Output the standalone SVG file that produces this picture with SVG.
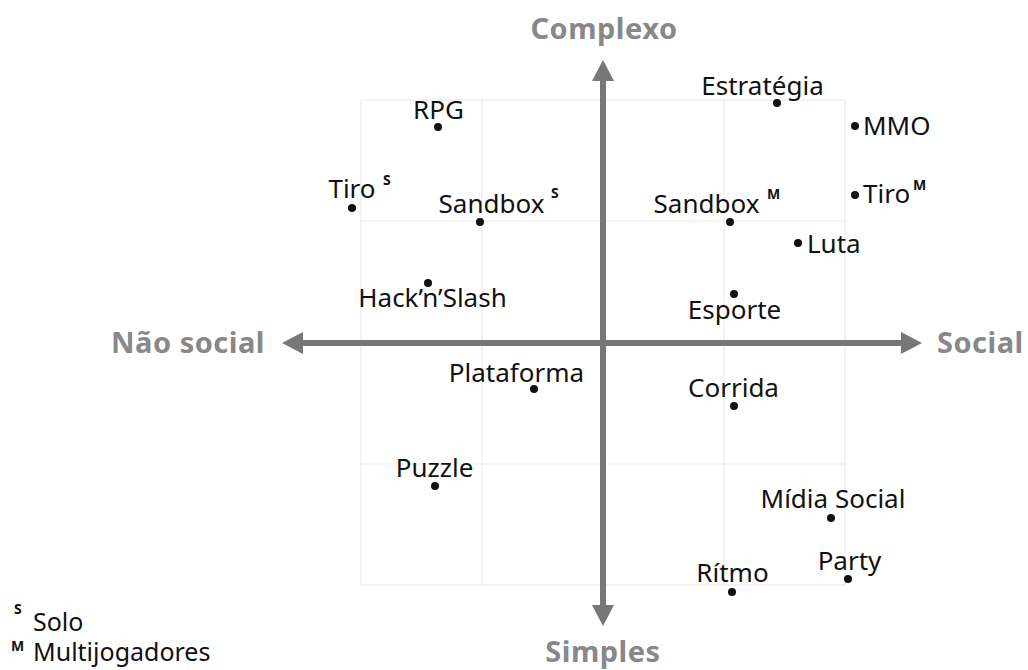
<svg xmlns="http://www.w3.org/2000/svg" width="1028" height="670" viewBox="0 0 1028 670">
<defs>
<style>
.grid{stroke:#ebebeb;stroke-width:1.2;fill:none}
.axis{stroke:#777;stroke-width:6;fill:none}
.ah{fill:#777}
.lbl{font-family:"Noto Sans","Liberation Sans",sans-serif;font-size:26px;fill:#111}
.leg{font-family:"Noto Sans","Liberation Sans",sans-serif;font-size:25px;fill:#111}
.sup{font-family:"Noto Sans","Liberation Sans",sans-serif;font-size:14px;font-weight:bold;fill:#111}
.ax{font-family:"Noto Sans","Liberation Sans",sans-serif;font-size:29px;font-weight:bold;fill:#888;letter-spacing:0.5px}
.dot{fill:#111}
</style>
</defs>
<rect width="1028" height="670" fill="#fff"/>
<g id="grid">
<rect class="grid" x="361" y="100" width="484" height="485"/>
<line class="grid" x1="482" y1="100" x2="482" y2="585"/>
<line class="grid" x1="724" y1="100" x2="724" y2="585"/>
<line class="grid" x1="361" y1="221" x2="845" y2="221"/>
<line class="grid" x1="361" y1="464" x2="845" y2="464"/>
</g>
<g id="connectors">
<line class="axis" x1="300" y1="343" x2="905" y2="343"/>
<polygon class="ah" points="282,343 303,332 303,354"/>
<polygon class="ah" points="922,343 901,332 901,354"/>
<line class="axis" x1="603" y1="76" x2="603" y2="610"/>
<polygon class="ah" points="603,60 592,81 614,81"/>
<polygon class="ah" points="603,626 592,605 614,605"/>
</g>
<g id="axis-labels">
<text class="ax" x="604" y="39" text-anchor="middle">Complexo</text>
<text class="ax" x="603" y="662" text-anchor="middle">Simples</text>
<text class="ax" x="265" y="353" text-anchor="end">Não social</text>
<text class="ax" x="937" y="353">Social</text>
</g>
<g id="rpg"><circle class="dot" cx="438" cy="127" r="4"/><text class="lbl" x="438.5" y="119" text-anchor="middle">RPG</text></g>
<g id="tiro-s"><circle class="dot" cx="352" cy="208" r="4"/><text class="lbl" x="352" y="198" text-anchor="middle">Tiro</text><text class="sup" x="383" y="185">S</text></g>
<g id="sandbox-s"><circle class="dot" cx="480" cy="222" r="4"/><text class="lbl" x="491.5" y="213" text-anchor="middle">Sandbox</text><text class="sup" x="551" y="198">S</text></g>
<g id="estrategia"><circle class="dot" cx="777" cy="103" r="4"/><text class="lbl" x="762.5" y="95" text-anchor="middle">Estratégia</text></g>
<g id="mmo"><circle class="dot" cx="855" cy="126" r="4"/><text class="lbl" x="863" y="135">MMO</text></g>
<g id="tiro-m"><circle class="dot" cx="855" cy="195" r="4"/><text class="lbl" x="863" y="203">Tiro</text><text class="sup" x="913" y="190">M</text></g>
<g id="sandbox-m"><circle class="dot" cx="730" cy="222" r="4"/><text class="lbl" x="706.5" y="213" text-anchor="middle">Sandbox</text><text class="sup" x="767" y="199">M</text></g>
<g id="luta"><circle class="dot" cx="798" cy="243" r="4"/><text class="lbl" x="807" y="253">Luta</text></g>
<g id="hacknslash"><circle class="dot" cx="428" cy="283" r="4"/><text class="lbl" x="432.5" y="307" text-anchor="middle">Hack’n’Slash</text></g>
<g id="esporte"><circle class="dot" cx="734" cy="294" r="4"/><text class="lbl" x="734.5" y="319" text-anchor="middle">Esporte</text></g>
<g id="plataforma"><circle class="dot" cx="534" cy="389" r="4"/><text class="lbl" x="516.5" y="382" text-anchor="middle">Plataforma</text></g>
<g id="corrida"><circle class="dot" cx="734" cy="406" r="4"/><text class="lbl" x="733.5" y="397" text-anchor="middle">Corrida</text></g>
<g id="puzzle"><circle class="dot" cx="435" cy="486" r="4"/><text class="lbl" x="434.5" y="477" text-anchor="middle">Puzzle</text></g>
<g id="midia-social"><circle class="dot" cx="831" cy="518" r="4"/><text class="lbl" x="833" y="508" text-anchor="middle">Mídia Social</text></g>
<g id="party"><circle class="dot" cx="848" cy="579" r="4"/><text class="lbl" x="849.5" y="570" text-anchor="middle">Party</text></g>
<g id="ritmo"><circle class="dot" cx="732" cy="592" r="4"/><text class="lbl" x="732.5" y="582" text-anchor="middle">Rítmo</text></g>
<g id="legend">
<text class="sup" x="14" y="614">S</text><text class="leg" x="33" y="631">Solo</text>
<text class="sup" x="11" y="651">M</text><text class="leg" x="33" y="661">Multijogadores</text>
</g>
</svg>
